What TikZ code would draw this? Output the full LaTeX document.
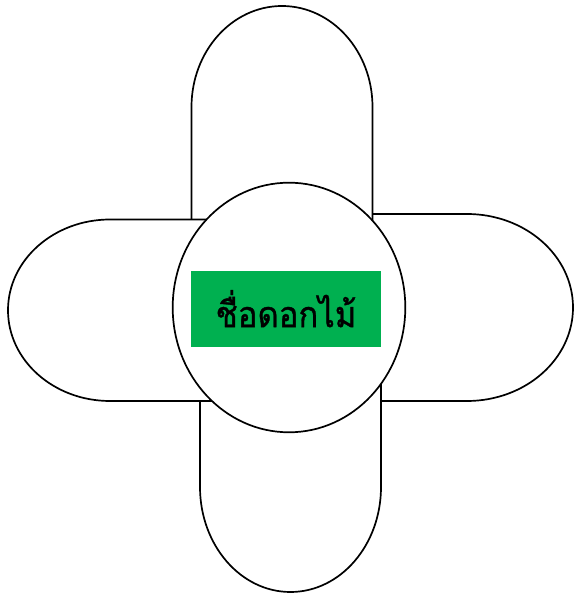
\documentclass[tikz,border=0pt]{standalone}
\usepackage{fontspec}
\newfontfamily\thaifont[Script=Thai,FakeBold=1.0]{Loma}
\usetikzlibrary{shapes.geometric}
\begin{document}
\begin{tikzpicture}[x=1pt,y=1pt,
  petal/.style={draw=black,fill=white,line width=1.7pt,line join=miter},
  hub/.style={ellipse,draw=black,fill=white,line width=1.7pt,inner sep=0pt},
  namebox/.style={rectangle,fill=boxgreen,inner sep=0pt,text=black,font=\thaifont\fontsize{36}{42}\selectfont}]
\definecolor{boxgreen}{HTML}{00B050}
\useasboundingbox (0,0) rectangle (576,594);
% right petal
\draw[petal] (289,380) -- (467,380) arc[start angle=90,end angle=-90,x radius=106,y radius=93.5] -- (289,193) -- cycle;
% top petal
\draw[petal] (191.5,286) -- (191.5,487) arc[start angle=180,end angle=0,x radius=90.5,y radius=101] -- (372.5,286) -- cycle;
% bottom petal
\draw[petal] (200,286) -- (200,107) arc[start angle=180,end angle=360,x radius=90.5,y radius=105] -- (381,286) -- cycle;
% left petal
\draw[petal] (289,374.5) -- (110,374.5) arc[start angle=90,end angle=270,x radius=102,y radius=90.75] -- (289,193) -- cycle;
% centre
\node[hub,minimum width=232.6pt,minimum height=249.6pt] (hub) at (289,286.5) {};
\node[namebox,minimum width=190pt,minimum height=76pt] (name) at (286,285.3) {\scalebox{0.91}[1]{ชื่อดอกไม้}};
\end{tikzpicture}
\end{document}
